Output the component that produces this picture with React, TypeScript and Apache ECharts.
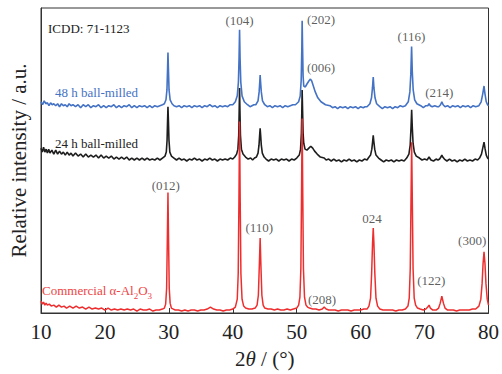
import React, { useEffect, useRef } from "react";
import * as echarts from "echarts";

const xTicks = [10, 20, 30, 40, 50, 60, 70, 80];

const milled48: [number, number][] = [
  [10, 214], [10.25, 211], [10.5, 215], [10.75, 212], [11, 213], [11.25, 210], [11.5, 213], [11.75, 211], [12, 212], [12.3, 210], [12.6, 212], [12.9, 209], [13.2, 212], [13.5, 210], [13.8, 211], [14.1, 209], [14.4, 212], [14.7, 210], [15, 211], [15.4, 209], [15.8, 211], [16.2, 208], [16.6, 211], [17, 209], [17.4, 211], [17.8, 208], [18.2, 210], [18.6, 209], [19, 211], [19.4, 208], [19.8, 210], [20.2, 208], [20.6, 210], [21, 209], [21.4, 211], [21.8, 208], [22.2, 210], [22.6, 208], [23, 210], [23.4, 209], [23.8, 211], [24.2, 208], [24.6, 210], [25, 208], [25.4, 210], [25.8, 209], [26.2, 210], [26.6, 208], [27, 210], [27.4, 208], [27.8, 210], [28.2, 209], [28.6, 210], [29, 211],
  [29.3, 212], [29.55, 216], [29.7, 226], [29.8, 248], [29.86, 264], [29.93, 248], [30.03, 226], [30.2, 216], [30.5, 212],
  [30.8, 210], [31.2, 209], [31.6, 210], [32, 208], [32.4, 210], [32.8, 209], [33.2, 210], [33.6, 208], [34, 210], [34.4, 209], [34.8, 210], [35.2, 208], [35.6, 210], [36, 209], [36.4, 211], [36.8, 209], [37.2, 210], [37.6, 208], [38, 210], [38.4, 209], [38.8, 210], [39.2, 209], [39.6, 211], [40, 211],
  [40.4, 214], [40.7, 220], [40.88, 234], [40.98, 258], [41.06, 287], [41.14, 258], [41.25, 234], [41.45, 220], [41.8, 214], [42.3, 211],
  [42.7, 209], [43, 210], [43.3, 211], [43.6, 211],
  [43.95, 215], [44.12, 224], [44.22, 234], [44.28, 241], [44.35, 234], [44.46, 224], [44.65, 215], [45, 211],
  [45.4, 209], [45.8, 210], [46.2, 208], [46.6, 210], [47, 209], [47.4, 210], [47.8, 208], [48.2, 210], [48.6, 209], [49, 210], [49.4, 211], [49.8, 211],
  [50.3, 214], [50.55, 220], [50.7, 236], [50.8, 268], [50.85, 296], [50.92, 268], [51, 240], [51.1, 230],
  [51.35, 229], [51.6, 232], [51.9, 235], [52.15, 237], [52.35, 235], [52.6, 230], [52.9, 224], [53.3, 218], [53.8, 214], [54.5, 211], [55.2, 210],
  [55.6, 208], [56, 209], [56.4, 207], [56.8, 209], [57.2, 208], [57.6, 209], [58, 207], [58.4, 209], [58.8, 208], [59.2, 209], [59.6, 207], [60, 209], [60.4, 208], [60.7, 209], [61, 209],
  [61.45, 212], [61.7, 218], [61.85, 228], [61.97, 239], [62.08, 228], [62.25, 218], [62.5, 212], [63, 209],
  [63.4, 207], [63.8, 209], [64.2, 208], [64.6, 209], [65, 207], [65.4, 209], [65.8, 208], [66.2, 210], [66.6, 209], [67, 210],
  [67.45, 214], [67.7, 224], [67.85, 242], [67.97, 270], [68.08, 244], [68.22, 226], [68.45, 216], [68.8, 212], [69.4, 210],
  [69.8, 208], [70.2, 210], [70.5, 210], [70.7, 212], [70.9, 210], [71.2, 209], [71.6, 210], [72, 209],
  [72.2, 209], [72.5, 211], [72.7, 214], [72.9, 211], [73.2, 209],
  [73.6, 210], [74, 208], [74.4, 210], [74.8, 209], [75.2, 210], [75.6, 208], [76, 210], [76.4, 209], [76.8, 210], [77.2, 208], [77.6, 210], [78, 209], [78.5, 210],
  [78.85, 214], [79.1, 222], [79.3, 230], [79.45, 222], [79.65, 214], [79.85, 211], [80, 210],
];

const milled24: [number, number][] = [
  [10, 167], [10.2, 163], [10.4, 168], [10.6, 163], [10.8, 166], [11, 162], [11.2, 166], [11.4, 162], [11.7, 165], [12, 161], [12.3, 165], [12.6, 161], [12.9, 164], [13.2, 161], [13.5, 163], [13.8, 160], [14.1, 163], [14.4, 160], [14.7, 162], [15, 159], [15.4, 162], [15.8, 159], [16.2, 161], [16.6, 158], [17, 161], [17.4, 158], [17.8, 160], [18.2, 158], [18.6, 160], [19, 157], [19.4, 160], [19.8, 157], [20.2, 159], [20.6, 157], [21, 159], [21.4, 156], [21.8, 158], [22.2, 156], [22.6, 158], [23, 156], [23.4, 158], [23.8, 155], [24.2, 157], [24.6, 155], [25, 157], [25.4, 155], [25.8, 157], [26.2, 155], [26.6, 157], [27, 155], [27.4, 156], [27.8, 155], [28.2, 157], [28.6, 155], [29, 157],
  [29.4, 159], [29.6, 163], [29.72, 175], [29.8, 195], [29.86, 209], [29.93, 195], [30.02, 175], [30.15, 163], [30.4, 159],
  [30.8, 157], [31.2, 155], [31.6, 157], [32, 155], [32.4, 156], [32.8, 154], [33.2, 156], [33.6, 155], [34, 157], [34.4, 155], [34.8, 156], [35.2, 154], [35.6, 156], [36, 155], [36.4, 157], [36.8, 155], [37.2, 156], [37.6, 154], [38, 156], [38.4, 155], [38.8, 156], [39.2, 155], [39.6, 157], [40, 156],
  [40.3, 158], [40.6, 161], [40.8, 166], [40.93, 180], [41, 205], [41.06, 228], [41.12, 205], [41.2, 180], [41.35, 166], [41.6, 161], [42, 158],
  [42.4, 156], [42.8, 157], [43.1, 155], [43.4, 157], [43.7, 158],
  [43.95, 162], [44.1, 170], [44.2, 180], [44.28, 187], [44.36, 180], [44.46, 170], [44.62, 162], [44.9, 158],
  [45.2, 156], [45.6, 154], [46, 156], [46.4, 155], [46.8, 156], [47.2, 154], [47.6, 156], [48, 155], [48.4, 156], [48.8, 154], [49.2, 156], [49.6, 155], [50, 157],
  [50.4, 160], [50.6, 166], [50.73, 182], [50.8, 205], [50.85, 226], [50.92, 205], [51, 182], [51.1, 172], [51.3, 166],
  [51.6, 165], [51.9, 167], [52.2, 169], [52.5, 167], [52.8, 164], [53.2, 161], [53.7, 158], [54.3, 157], [54.6, 155],
  [55, 156], [55.4, 154], [55.8, 156], [56.2, 154], [56.6, 155], [57, 153], [57.4, 155], [57.8, 154], [58.2, 156], [58.6, 154], [59, 155], [59.4, 153], [59.8, 155], [60.2, 154], [60.6, 156], [61, 155],
  [61.2, 157], [61.55, 160], [61.75, 166], [61.88, 174], [61.97, 180], [62.06, 174], [62.2, 166], [62.4, 160], [62.8, 157],
  [63.2, 155], [63.6, 153], [64, 155], [64.4, 154], [64.8, 155], [65.2, 153], [65.6, 155], [66, 154], [66.4, 155], [66.8, 154], [67.2, 157],
  [67.55, 161], [67.75, 170], [67.88, 188], [67.98, 206], [68.08, 188], [68.2, 172], [68.4, 163], [68.7, 159], [69.2, 157],
  [69.6, 155], [70, 156], [70.4, 155], [70.7, 158], [71, 155], [71.4, 154], [71.8, 156], [72.1, 155],
  [72.35, 156], [72.55, 158], [72.7, 160], [72.85, 158], [73.1, 156],
  [73.5, 154], [73.9, 156], [74.3, 154], [74.7, 155], [75.1, 153], [75.5, 155], [75.9, 154], [76.3, 156], [76.7, 154], [77.1, 155], [77.5, 154], [77.9, 156], [78.3, 155], [78.6, 157],
  [78.9, 161], [79.1, 167], [79.3, 173], [79.45, 167], [79.65, 160], [79.85, 157], [80, 156],
];

const commercial: [number, number][] = [
  [10, 12], [10.2, 9], [10.4, 11], [10.6, 8], [10.8, 10], [11, 8], [11.3, 9], [11.6, 7], [12, 8], [12.4, 6], [12.8, 8], [13.2, 6], [13.6, 7], [14, 5], [14.5, 7], [15, 5], [15.5, 7], [16, 5], [16.5, 6], [17, 4], [17.5, 6], [18, 4], [18.5, 5], [19, 4], [19.5, 5], [20, 3], [20.5, 5], [21, 3], [21.5, 4], [22, 3], [22.5, 4], [23, 3], [23.5, 4], [24, 3], [24.5, 4], [25, 2], [25.5, 4], [26, 3], [26.5, 3], [27, 4], [27.5, 2], [28, 3], [28.5, 3], [29, 4],
  [29.3, 5], [29.5, 9], [29.65, 25], [29.75, 70], [29.86, 122], [29.96, 72], [30.06, 25], [30.2, 10], [30.4, 5],
  [30.7, 4], [31, 3], [31.5, 3], [32, 2], [32.5, 3], [33, 2], [33.5, 3], [34, 3], [34.5, 2], [35, 3], [35.5, 3], [36, 4], [36.5, 6], [37, 4], [37.5, 3], [38, 3], [38.5, 2], [39, 3], [39.5, 3], [40, 4],
  [40.4, 6], [40.7, 14], [40.85, 40], [40.97, 120], [41.06, 194], [41.15, 120], [41.27, 40], [41.45, 14], [41.7, 7],
  [42, 5], [42.5, 4], [43, 4], [43.5, 5],
  [43.8, 8], [44, 18], [44.15, 48], [44.28, 76], [44.4, 48], [44.55, 18], [44.75, 8],
  [45, 5], [45.5, 4], [46, 4], [46.5, 3], [47, 4], [47.5, 3], [48, 3], [48.5, 4], [49, 3], [49.5, 4], [50, 5],
  [50.3, 8], [50.5, 16], [50.65, 45], [50.76, 125], [50.85, 197], [50.94, 125], [51.05, 45], [51.22, 16], [51.45, 8],
  [51.7, 6], [52, 5], [52.5, 4], [53, 4], [53.5, 3], [54, 4], [54.3, 6], [54.6, 4],
  [55, 3], [55.5, 3], [56, 3], [56.5, 2], [57, 3], [57.5, 3], [58, 3], [58.5, 2], [59, 3], [59.5, 3], [60, 3], [60.5, 4], [61, 4],
  [61.3, 7], [61.55, 15], [61.72, 40], [61.86, 70], [61.97, 86], [62.08, 70], [62.22, 40], [62.4, 15], [62.65, 7],
  [63, 4], [63.5, 3], [64, 3], [64.5, 3], [65, 3], [65.5, 2], [66, 3], [66.5, 3], [67, 4],
  [67.4, 7], [67.6, 15], [67.76, 45], [67.88, 115], [67.98, 173], [68.08, 115], [68.2, 45], [68.38, 15], [68.6, 8],
  [68.9, 5], [69.3, 4], [69.8, 3], [70.2, 4], [70.5, 6], [70.7, 8], [70.9, 5], [71.3, 3], [71.8, 3],
  [72.2, 5], [72.45, 10], [72.7, 17], [72.95, 10], [73.2, 5],
  [73.6, 3], [74, 3], [74.5, 3], [75, 2], [75.5, 3], [76, 3], [76.5, 3], [77, 3], [77.5, 4], [78, 4],
  [78.5, 7], [78.8, 14], [79, 30], [79.15, 50], [79.3, 62], [79.45, 50], [79.6, 30], [79.8, 14], [80, 8],
];

const peakLabels: [string, number, number][] = [
  ["(104)", 41.06, 296],
  ["(202)", 53.8, 297],
  ["(006)", 53.8, 249],
  ["(116)", 67.95, 280],
  ["(214)", 72.3, 223],
  ["(012)", 29.52, 129],
  ["(110)", 44.15, 87],
  ["024", 61.77, 96],
  ["(208)", 53.97, 14],
  ["(122)", 71.04, 33],
  ["(300)", 77.45, 73],
];

const SERIF = "Liberation Serif";
const RED = "#EE2E2E";
const BLUE = "#4472C4";
const BLACK = "#1E1E1E";

export default function App() {
  const ref = useRef<HTMLDivElement>(null);
  useEffect(() => {
    document.body.style.margin = "0";
    if (!ref.current) return;
    const chart = echarts.init(ref.current, null, { renderer: "svg" });
    chart.setOption({
      animation: false,
      backgroundColor: "#ffffff",
      textStyle: { fontFamily: SERIF },
      grid: {
        left: 40,
        right: 9,
        top: 8,
        bottom: 57,
        show: true,
        borderColor: "#333",
        borderWidth: 1,
        backgroundColor: "transparent",
      },
      xAxis: {
        type: "value",
        min: 10,
        max: 80,
        interval: 10,
        axisLine: { show: true, lineStyle: { color: "#333", width: 1 } },
        axisTick: { show: true, inside: true, length: 5, lineStyle: { color: "#333" } },
        splitLine: { show: false },
        axisLabel: {
          fontFamily: SERIF,
          fontSize: 21,
          color: "#222",
          margin: 8,
          formatter: (v: number) => (xTicks.includes(v) ? String(v) : ""),
        },
        name: "{n|2}{i|θ}{n| / (°)}",
        nameLocation: "middle",
        nameGap: 35,
        nameTextStyle: {
          fontFamily: SERIF,
          fontSize: 21,
          rich: {
            n: { fontFamily: SERIF, fontSize: 21, color: "#222" },
            i: { fontFamily: SERIF, fontSize: 21, color: "#222", fontStyle: "italic" },
          },
        },
      },
      yAxis: {
        type: "value",
        min: 0,
        max: 309,
        axisLine: { show: true, lineStyle: { color: "#333", width: 1 } },
        axisTick: { show: false },
        axisLabel: { show: false },
        splitLine: { show: false },
        name: "Relative intensity / a.u.",
        nameLocation: "middle",
        nameGap: 12,
        nameTextStyle: { fontFamily: SERIF, fontSize: 21, color: "#222" },
      },
      series: [
        {
          type: "line",
          data: milled48,
          showSymbol: false,
          lineStyle: { color: BLUE, width: 1.6 },
          silent: true,
        },
        {
          type: "line",
          data: milled24,
          showSymbol: false,
          lineStyle: { color: BLACK, width: 1.6 },
          silent: true,
        },
        {
          type: "line",
          data: commercial,
          showSymbol: false,
          lineStyle: { color: RED, width: 1.5 },
          silent: true,
        },
        {
          type: "scatter",
          silent: true,
          symbolSize: 1,
          itemStyle: { color: "rgba(0,0,0,0)" },
          data: peakLabels.map(([t, x, y]) => ({ value: [x, y], name: t })),
          label: {
            show: true,
            position: "inside",
            formatter: (p: any) => p.name,
            fontFamily: SERIF,
            fontSize: 13,
            color: "#333",
          },
        },
      ],
      graphic: [
        {
          type: "text",
          x: 48,
          y: 28,
          style: { text: "ICDD: 71-1123", fontFamily: SERIF, fontSize: 13, fill: "#222", verticalAlign: "middle" },
        },
        {
          type: "text",
          x: 55,
          y: 92,
          style: { text: "48 h ball-milled", fontFamily: SERIF, fontSize: 13, fill: BLUE, verticalAlign: "middle" },
        },
        {
          type: "text",
          x: 55,
          y: 143,
          style: { text: "24 h ball-milled", fontFamily: SERIF, fontSize: 13, fill: "#222", verticalAlign: "middle" },
        },
        {
          type: "text",
          x: 42,
          y: 289,
          style: {
            text: "{m|Commercial α-Al}{s|2}{m|O}{s|3}",
            verticalAlign: "middle",
            rich: {
              m: { fontFamily: SERIF, fontSize: 13, fill: "#EE4444", lineHeight: 16, verticalAlign: "bottom" },
              s: { fontFamily: SERIF, fontSize: 9, fill: "#EE4444", lineHeight: 16, verticalAlign: "bottom", padding: [0, 0, -3, 0] },
            },
          },
        },
      ],
    });
    return () => chart.dispose();
  }, []);
  return <div ref={ref} style={{ width: 502, height: 374 }} />;
}
